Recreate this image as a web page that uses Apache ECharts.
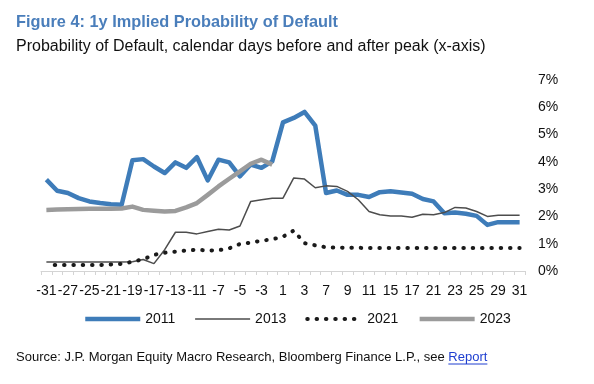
<!DOCTYPE html>
<html>
<head>
<meta charset="utf-8">
<script src="https://cdn.jsdelivr.net/npm/echarts@6/dist/echarts.min.js"></script>
<style>
  html, body { margin: 0; padding: 0; background: #fff; }
  #chart { width: 594px; height: 384px; }
</style>
</head>
<body>
<div id="chart"></div>
<script>
// Business days, calendar days relative to peak
var categories = ['-31','-28','-27','-26','-25','-24','-21','-20','-19','-18','-17','-14','-13','-12','-11','-10','-7','-6','-5','-4','-3','0','1','2','3','4','7','8','9','10','11','14','15','16','17','18','21','22','23','24','25','28','29','30','31'];

var s2011 = [3.35,2.94,2.86,2.67,2.55,2.49,2.45,2.43,4.06,4.10,3.83,3.59,3.98,3.78,4.17,3.32,4.08,3.98,3.47,3.90,3.78,4.02,5.45,5.61,5.83,5.33,2.86,2.95,2.79,2.79,2.71,2.89,2.92,2.88,2.83,2.64,2.55,2.12,2.14,2.10,2.02,1.69,1.79,1.79,1.79];
var s2013 = [0.33,0.33,0.33,0.33,0.33,0.33,0.33,0.33,0.34,0.42,0.27,0.78,1.42,1.42,1.36,1.45,1.53,1.50,1.65,2.55,2.61,2.67,2.67,3.41,3.37,3.05,3.12,3.10,2.92,2.61,2.18,2.06,2.02,2.02,1.97,2.08,2.06,2.14,2.33,2.31,2.18,2.00,2.04,2.04,2.04];
var s2021 = [0.22,0.22,0.22,0.22,0.22,0.22,0.24,0.26,0.34,0.43,0.59,0.67,0.71,0.75,0.78,0.75,0.76,0.83,0.99,1.04,1.11,1.16,1.26,1.48,1.02,0.94,0.87,0.86,0.85,0.85,0.84,0.84,0.84,0.84,0.84,0.84,0.84,0.84,0.84,0.84,0.84,0.84,0.84,0.84,0.84];
var s2023 = [2.24,2.25,2.26,2.27,2.28,2.28,2.28,2.29,2.36,2.24,2.21,2.18,2.20,2.33,2.49,2.79,3.10,3.38,3.65,3.93,4.08,3.90,null,null,null,null,null,null,null,null,null,null,null,null,null,null,null,null,null,null,null,null,null,null,null];

var yTicks = [0,1,2,3,4,5,6,7];

var FONT = "'Liberation Sans', Arial, sans-serif";
var titleText = 'Figure 4: 1y Implied Probability of Default';
var subtitleText = 'Probability of Default, calendar days before and after peak (x-axis)';
var sourceText = 'Source: J.P. Morgan Equity Macro Research, Bloomberg Finance L.P., see ';
var linkText = 'Report';

var C2011 = '#3e7cb9', C2013 = '#4d4d4d', C2021 = '#1a1a1a', C2023 = '#9b9b9b';

var mctx = document.createElement('canvas').getContext('2d');
mctx.font = '13px ' + FONT;
var srcW = mctx.measureText(sourceText).width;
var linkW = mctx.measureText(linkText).width;

var chart = echarts.init(document.getElementById('chart'), null, {renderer: 'canvas'});

var dotStyle = {color: C2021, width: 4, type: [0.5, 8.83], cap: 'round', dashOffset: 1};
var dotLegendStyle = {color: C2021, width: 4, type: [0.5, 8.83], cap: 'round', dashOffset: 0};
var hiddenSymbol = {color: 'rgba(0,0,0,0)', borderWidth: 0, opacity: 0};

chart.setOption({
  animation: false,
  backgroundColor: '#ffffff',
  textStyle: {fontFamily: FONT},
  grid: {left: 41, right: 69, top: 80, bottom: 113, containLabel: false},
  xAxis: {
    type: 'category',
    data: categories,
    boundaryGap: true,
    axisLine: {show: true, lineStyle: {color: '#d4d4d4', width: 1}},
    axisTick: {show: true, interval: 0, length: 4, lineStyle: {color: '#d4d4d4'}},
    axisLabel: {interval: 1, margin: 13, fontSize: 14, color: '#111', fontFamily: FONT},
    splitLine: {show: false}
  },
  yAxis: {
    type: 'value',
    position: 'right',
    min: yTicks[0], max: yTicks[yTicks.length - 1], interval: 1,
    axisLine: {show: false}, axisTick: {show: false},
    splitLine: {show: false},
    axisLabel: {margin: 13, fontSize: 14, color: '#111', fontFamily: FONT, formatter: '{value}%'}
  },
  legend: {
    left: 78, top: 307,
    itemWidth: 55, itemHeight: 14, itemGap: 19,
    textStyle: {fontSize: 14, color: '#111', fontFamily: FONT},
    itemStyle: hiddenSymbol,
    data: [
      {name: '2011', itemStyle: hiddenSymbol, lineStyle: {color: C2011, width: 4.5}},
      {name: '2013', itemStyle: hiddenSymbol, lineStyle: {color: C2013, width: 1.5}},
      {name: '2021', itemStyle: hiddenSymbol, lineStyle: dotLegendStyle},
      {name: '2023', itemStyle: hiddenSymbol, lineStyle: {color: C2023, width: 4.5}}
    ]
  },
  series: [
    {name: '2011', type: 'line', data: s2011, symbol: 'none', lineStyle: {color: C2011, width: 4.5, join: 'round'}, itemStyle: {color: C2011}},
    {name: '2013', type: 'line', data: s2013, symbol: 'none', lineStyle: {color: C2013, width: 1.5}, itemStyle: {color: C2013}},
    {name: '2021', type: 'line', data: s2021, symbol: 'none', lineStyle: dotStyle, itemStyle: {color: C2021}},
    {name: '2023', type: 'line', data: s2023, symbol: 'none', connectNulls: false, lineStyle: {color: C2023, width: 4.5, join: 'round'}, itemStyle: {color: C2023}}
  ],
  graphic: [
    {type: 'text', x: 16, y: 22, scaleX: 0.96, style: {text: titleText, font: 'bold 17px ' + FONT, fill: '#4a7ebb', verticalAlign: 'middle', align: 'left'}},
    {type: 'text', x: 16, y: 47, style: {text: subtitleText, font: '16px ' + FONT, fill: '#111', verticalAlign: 'middle', align: 'left'}},
    {type: 'text', x: 16, y: 357, style: {text: sourceText, font: '13px ' + FONT, fill: '#111', verticalAlign: 'middle', align: 'left'}},
    {type: 'text', x: 16 + srcW, y: 357, style: {text: linkText, font: '13px ' + FONT, fill: '#1f3fd0', verticalAlign: 'middle', align: 'left'}},
    {type: 'line', shape: {x1: 16 + srcW, y1: 364, x2: 16 + srcW + linkW, y2: 364}, style: {stroke: '#1f3fd0', lineWidth: 1}}
  ]
});
</script>
</body>
</html>
